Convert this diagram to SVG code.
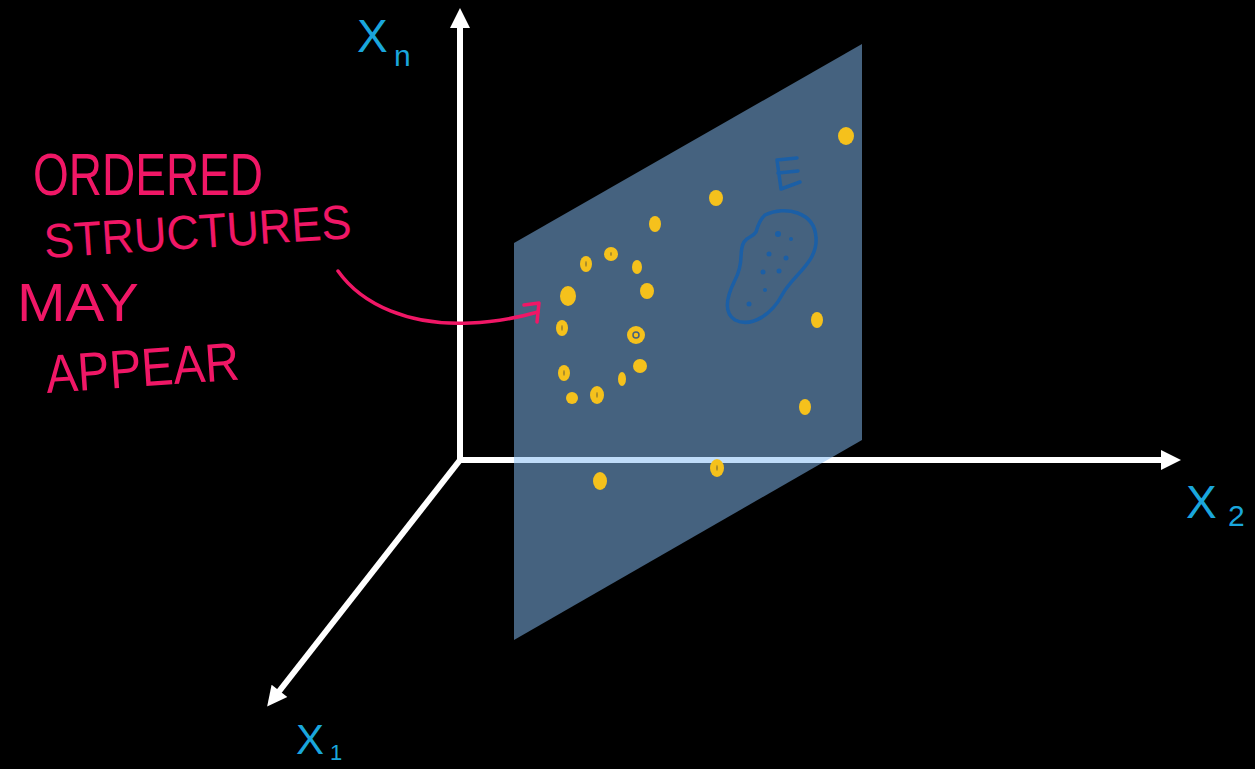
<svg xmlns="http://www.w3.org/2000/svg" width="1255" height="769" viewBox="0 0 1255 769">
<style>
.axis{stroke:#ffffff;stroke-width:6;fill:none;marker-end:url(#ah)}
.lbl{fill:#1aa6dc;font-family:"Liberation Sans",Arial,sans-serif}
.pink{fill:#f01766;font-family:"Liberation Sans",Arial,sans-serif}
.dot{fill:#f5c11c}
.hole{fill:#a88a2a}
.bd{fill:#1b5fa6}
</style>
<defs>
<marker id="ah" viewBox="0 0 10 10" refX="2" refY="5" markerUnits="userSpaceOnUse" markerWidth="22" markerHeight="20" orient="auto">
<path d="M0,0 L10,5 L0,10 z" fill="#ffffff"/>
</marker>
</defs>
<rect width="1255" height="769" fill="#000000"/>
<g id="connectors">
<line class="axis" x1="460" y1="460" x2="460" y2="24"/>
<line class="axis" x1="457" y1="460" x2="1165" y2="460"/>
<line class="axis" x1="460" y1="460" x2="277" y2="694"/>
</g>
<g id="plane">
<polygon points="514,243 862,44 862,440 514,640" fill="#84bbf4" opacity="0.52"/>
</g>
<g id="axis-labels">
<text class="lbl" x="357" y="52" font-size="46">X</text>
<text class="lbl" x="394" y="66" font-size="30">n</text>
<text class="lbl" x="1186" y="518" font-size="46">X</text>
<text class="lbl" x="1228" y="526" font-size="30">2</text>
<text class="lbl" x="296" y="754" font-size="42">X</text>
<text class="lbl" x="330" y="760" font-size="22">1</text>
</g>
<g id="annotation">
<text class="pink" x="33" y="195" font-size="60" textLength="230" lengthAdjust="spacingAndGlyphs">ORDERED</text>
<text class="pink" x="45" y="258" font-size="48" textLength="308" lengthAdjust="spacingAndGlyphs" transform="rotate(-3.7 45 258)">STRUCTURES</text>
<text class="pink" x="17" y="321" font-size="54" textLength="122" lengthAdjust="spacingAndGlyphs">MAY</text>
<text class="pink" x="47" y="393" font-size="54" textLength="194" lengthAdjust="spacingAndGlyphs" transform="rotate(-4 47 393)">APPEAR</text>
<path d="M338,271 C362,305 410,326 470,323 C500,322 520,317 538,312" fill="none" stroke="#f01766" stroke-width="3.5" stroke-linecap="round"/>
<path d="M524,305 L539,303 L537,322" fill="none" stroke="#f01766" stroke-width="3.5" stroke-linecap="round" stroke-linejoin="round"/>
</g>
<g id="points">
<ellipse class="dot" cx="846" cy="136" rx="8" ry="9"/>
<ellipse class="dot" cx="716" cy="198" rx="7" ry="8"/>
<ellipse class="dot" cx="655" cy="224" rx="6" ry="8"/>
<ellipse class="dot" cx="586" cy="264" rx="6" ry="8"/><ellipse class="hole" cx="586" cy="264" rx="1" ry="3"/>
<ellipse class="dot" cx="611" cy="254" rx="7" ry="7"/><ellipse class="hole" cx="611" cy="254" rx="1" ry="2"/>
<ellipse class="dot" cx="637" cy="267" rx="5" ry="7"/>
<ellipse class="dot" cx="568" cy="296" rx="8" ry="10"/>
<ellipse class="dot" cx="647" cy="291" rx="7" ry="8"/>
<ellipse class="dot" cx="562" cy="328" rx="6" ry="8"/><ellipse class="hole" cx="562" cy="328" rx="1" ry="3"/>
<ellipse class="dot" cx="636" cy="335" rx="9" ry="9"/><circle cx="636" cy="335" r="3" fill="none" stroke="#44617f" stroke-width="1.5"/>
<ellipse class="dot" cx="564" cy="373" rx="6" ry="8"/><ellipse class="hole" cx="564" cy="373" rx="1" ry="3"/>
<ellipse class="dot" cx="640" cy="366" rx="7" ry="7"/>
<ellipse class="dot" cx="622" cy="379" rx="4" ry="7"/>
<ellipse class="dot" cx="572" cy="398" rx="6" ry="6"/>
<ellipse class="dot" cx="597" cy="395" rx="7" ry="9"/><ellipse class="hole" cx="597" cy="395" rx="1" ry="3"/>
<ellipse class="dot" cx="817" cy="320" rx="6" ry="8"/>
<ellipse class="dot" cx="805" cy="407" rx="6" ry="8"/>
<ellipse class="dot" cx="717" cy="468" rx="7" ry="9"/><ellipse class="hole" cx="717" cy="468" rx="1" ry="3"/>
<ellipse class="dot" cx="600" cy="481" rx="7" ry="9"/>
</g>
<g id="cluster-E">
<path d="M777,160 L797,158 M777,160 L781,189 M778,173 L798,171 M781,189 L800,182" fill="none" stroke="#1b5fa6" stroke-width="3.5" stroke-linecap="round"/>
<path d="M765,215 C785,205 815,212 816,238 C818,262 792,276 782,295 C772,314 752,328 735,320 C722,312 728,294 735,280 C745,262 738,252 744,242 C748,236 752,238 756,232 C758,225 760,219 765,215 Z" fill="none" stroke="#1b5fa6" stroke-width="3.5"/>
<circle class="bd" cx="778" cy="234" r="3"/>
<circle class="bd" cx="791" cy="239" r="2"/>
<circle class="bd" cx="769" cy="254" r="2.5"/>
<circle class="bd" cx="786" cy="258" r="2.5"/>
<circle class="bd" cx="779" cy="271" r="2.5"/>
<circle class="bd" cx="763" cy="272" r="2.5"/>
<circle class="bd" cx="765" cy="290" r="2"/>
<circle class="bd" cx="749" cy="304" r="2.5"/>
</g>
</svg>
